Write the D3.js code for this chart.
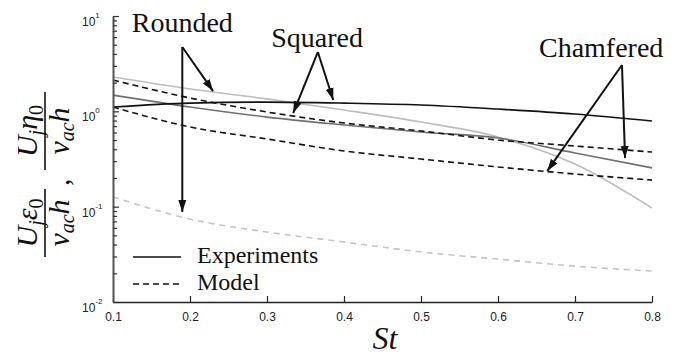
<!DOCTYPE html>
<html>
<head>
<meta charset="utf-8">
<script src="https://cdn.jsdelivr.net/npm/d3@7"></script>
</head>
<body style="margin:0;background:#fff">
<script>
var width = 680,
    height = 357;

var serif = '"Liberation Serif", "Times New Roman", "DejaVu Serif", serif',
    sans = '"Liberation Sans", Arial, sans-serif';

// Strouhal numbers sampled along each curve
var st = [0.1, 0.2, 0.3, 0.4, 0.5, 0.6, 0.7, 0.8];

// values
var roundedExp     = [2.29, 1.715, 1.35, 1.033, 0.773, 0.538, 0.28, 0.0968];
var roundedModel   = [0.1263, 0.0742, 0.0542, 0.0426, 0.0335, 0.0282, 0.0238, 0.0211];
var squaredExp     = [1.11, 1.22, 1.25, 1.22, 1.165, 1.057, 0.938, 0.792];
var squaredModel   = [2.13, 1.38, 0.984, 0.754, 0.622, 0.50, 0.433, 0.374];
var chamferedExp   = [1.48, 1.11, 0.87, 0.72, 0.607, 0.525, 0.366, 0.255];
var chamferedModel = [1.11, 0.685, 0.513, 0.384, 0.316, 0.261, 0.220, 0.19];

var xTicks = [0.1, 0.2, 0.3, 0.4, 0.5, 0.6, 0.7, 0.8];
var yDecades = [-2, -1, 0, 1];

// annotation labels and arrows, in data coordinates
var notes = [
  { text: 'Rounded',   st: 0.19,  v: 6.8,  from: [0.19, 4.73],  tips: [[0.23, 1.63], [0.19, 0.088]] },
  { text: 'Squared',   st: 0.365, v: 4.73, from: [0.366, 4.19], tips: [[0.334, 0.96], [0.386, 1.315]] },
  { text: 'Chamfered', st: 0.734, v: 3.72, from: [0.761, 3.06], tips: [[0.664, 0.237], [0.765, 0.324]] }
];

var svg = d3.select('body').append('svg')
    .attr('width', width)
    .attr('height', height)
    .style('display', 'block');

var x = d3.scaleLinear().domain([0.1, 0.8]).range([113, 652]);
var y = d3.scaleLog().domain([0.01, 10]).range([302, 16]);

// arrow head
svg.append('defs').append('marker')
    .attr('id', 'head')
    .attr('markerUnits', 'userSpaceOnUse')
    .attr('viewBox', '0 -5 12 10')
    .attr('refX', 12)
    .attr('refY', 0)
    .attr('markerWidth', 12)
    .attr('markerHeight', 10)
    .attr('orient', 'auto')
  .append('path')
    .attr('d', 'M0,-4L12,0L0,4Z')
    .attr('fill', '#111');

// the series, drawn back to front
var series = [
  { values: roundedModel,   color: '#c4c4c4', dash: '6,5' },
  { values: roundedExp,     color: '#bdbdbd', dash: null },
  { values: chamferedExp,   color: '#707070', dash: null },
  { values: squaredModel,   color: '#111',    dash: '6,4' },
  { values: chamferedModel, color: '#111',    dash: '6,4' },
  { values: squaredExp,     color: '#111',    dash: null }
];

var line = d3.line()
    .x(function(d) { return x(d[0]); })
    .y(function(d) { return y(d[1]); })
    .curve(d3.curveMonotoneX);

svg.append('g').selectAll('path')
    .data(series)
    .enter().append('path')
    .attr('fill', 'none')
    .attr('stroke', function(d) { return d.color; })
    .attr('stroke-width', 1.6)
    .attr('stroke-dasharray', function(d) { return d.dash; })
    .attr('d', function(d) {
      return line(st.map(function(s, i) { return [s, d.values[i]]; }));
    });

// x axis, ticks pointing in
var xAxis = svg.append('g')
    .attr('transform', 'translate(0,' + y.range()[0] + ')')
    .call(d3.axisBottom(x)
      .tickValues(xTicks)
      .tickSizeInner(-6)
      .tickSizeOuter(0)
      .tickPadding(10)
      .tickFormat(d3.format('.1f')));
xAxis.select('.domain').attr('stroke', '#222').attr('stroke-width', 1.5);
xAxis.selectAll('.tick line').attr('stroke', '#222').attr('stroke-width', 1.2);
xAxis.selectAll('.tick text')
    .style('font-family', sans)
    .style('font-size', '12px')
    .style('fill', '#222');

// y axis: decades plus minor ticks
var yTickVals = [];
yDecades.forEach(function(e) {
  for (var k = 1; k <= 9; k++) {
    if (e === 1 && k > 1) break;
    yTickVals.push(k * Math.pow(10, e));
  }
});

var yAxis = svg.append('g')
    .attr('transform', 'translate(' + x.range()[0] + ',0)')
    .call(d3.axisLeft(y)
      .tickValues(yTickVals)
      .tickSizeOuter(0)
      .tickFormat(''));
yAxis.select('.domain').attr('stroke', '#555').attr('stroke-width', 2);
yAxis.selectAll('.tick line')
    .attr('stroke', '#333')
    .attr('stroke-width', 1.2)
    .attr('x2', function(d) {
      var m = d / Math.pow(10, Math.floor(Math.log10(d) + 1e-9));
      return Math.abs(m - 1) < 1e-6 ? 6 : 4;
    });

// decade labels as 10 with a superscript
var yLab = svg.append('g').selectAll('text')
    .data(yDecades)
    .enter().append('text')
    .attr('x', 82)
    .attr('y', function(d) { return y(Math.pow(10, d)) + 10; })
    .style('font-family', sans)
    .style('font-size', '12px')
    .style('fill', '#222');
yLab.append('tspan').text('10');
yLab.append('tspan')
    .attr('dy', -8)
    .style('font-size', '8px')
    .text(function(d) { return d; });

// x axis title
svg.append('text')
    .attr('x', 385)
    .attr('y', 349)
    .attr('text-anchor', 'middle')
    .style('font-family', serif)
    .style('font-style', 'italic')
    .style('font-size', '32px')
    .style('fill', '#111')
    .text('St');

// y axis title: two stacked fractions, rotated
var yt = svg.append('g')
    .attr('transform', 'translate(45,175) rotate(-90)')
    .style('font-family', serif)
    .style('font-style', 'italic')
    .style('fill', '#111');

function fraction(cx, len, sym) {
  var num = yt.append('text')
      .attr('x', cx)
      .attr('y', -8)
      .attr('text-anchor', 'middle')
      .style('font-size', '30px');
  num.append('tspan').text('U');
  num.append('tspan').attr('dy', 6).style('font-size', '20px').text('j');
  num.append('tspan').attr('dy', -6).text(sym);
  num.append('tspan').attr('dy', 6).style('font-size', '20px').style('font-style', 'normal').text('0');

  yt.append('line')
      .attr('x1', cx - len / 2).attr('x2', cx + len / 2)
      .attr('y1', 0).attr('y2', 0)
      .attr('stroke', '#111').attr('stroke-width', 1.6);

  var den = yt.append('text')
      .attr('x', cx)
      .attr('y', 24)
      .attr('text-anchor', 'middle')
      .style('font-size', '30px');
  den.append('tspan').text('v');
  den.append('tspan').attr('dy', 5).style('font-size', '20px').text('ac');
  den.append('tspan').attr('dy', -5).text('h');
}
fraction(-48, 68, '\u03b5');
fraction(44, 78, '\u03b7');
yt.append('text')
    .attr('x', -11)
    .attr('y', 24)
    .style('font-size', '30px')
    .style('font-style', 'normal')
    .text(',');

// annotations
var ann = svg.append('g');
notes.forEach(function(n) {
  ann.append('text')
      .attr('x', x(n.st))
      .attr('y', y(n.v))
      .attr('text-anchor', 'middle')
      .style('font-family', serif)
      .style('font-size', '28px')
      .style('fill', '#111')
      .text(n.text);
  n.tips.forEach(function(t) {
    ann.append('line')
        .attr('x1', x(n.from[0])).attr('y1', y(n.from[1]))
        .attr('x2', x(t[0])).attr('y2', y(t[1]))
        .attr('stroke', '#111')
        .attr('stroke-width', 2)
        .attr('marker-end', 'url(#head)');
  });
});

// legend
var legend = svg.append('g');
[{ label: 'Experiments', dash: null, yy: 257 }, { label: 'Model', dash: '6,4', yy: 284 }]
  .forEach(function(d) {
    legend.append('line')
        .attr('x1', 133).attr('x2', 181)
        .attr('y1', d.yy).attr('y2', d.yy)
        .attr('stroke', '#111')
        .attr('stroke-width', 1.6)
        .attr('stroke-dasharray', d.dash);
    legend.append('text')
        .attr('x', 197)
        .attr('y', d.yy + 6)
        .style('font-family', serif)
        .style('font-size', '24px')
        .style('fill', '#111')
        .text(d.label);
  });
</script>
</body>
</html>
